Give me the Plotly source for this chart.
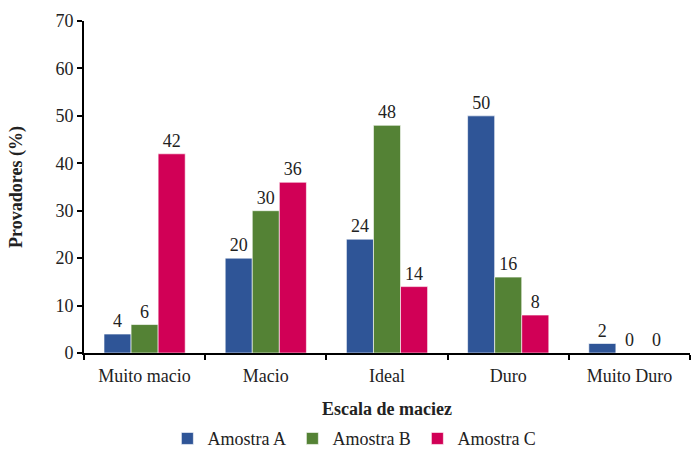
import plotly.graph_objects as go

categories = ["Muito macio", "Macio", "Ideal", "Duro", "Muito Duro"]
amostra_a = [4, 20, 24, 50, 2]
amostra_b = [6, 30, 48, 16, 0]
amostra_c = [42, 36, 14, 8, 0]
series_names = ["Amostra A", "Amostra B", "Amostra C"]
colors = ["#2F5597", "#548235", "#D10056"]

FONT = "Liberation Serif"

fig = go.Figure()
for name, vals, col in zip(series_names, [amostra_a, amostra_b, amostra_c], colors):
    fig.add_trace(go.Bar(
        x=categories, y=vals, name=name,
        marker=dict(color=col, line=dict(color="rgba(255,255,255,0.6)", width=1)),
        text=[str(v) for v in vals], textposition="outside",
        textfont=dict(family=FONT, size=18, color="#222"),
        cliponaxis=False,
    ))

fig.update_layout(
    width=692, height=450,
    margin=dict(l=84, r=2, t=21, b=97),
    paper_bgcolor="white", plot_bgcolor="white",
    barmode="group", bargap=0.33, bargroupgap=0,
    font=dict(family=FONT, size=18, color="#222"),
    showlegend=True,
    legend=dict(orientation="h", x=0.447, xanchor="center", yref="container", y=0.025, yanchor="middle",
                font=dict(family=FONT, size=18), itemwidth=30, tracegroupgap=0,
                entrywidth=80, entrywidthmode="pixels"),
    xaxis=dict(
        showline=True, linecolor="black", linewidth=2, automargin=True,
        ticks="outside", ticklen=5, tickwidth=2, tickcolor="black",
        tickson="boundaries", showgrid=False, ticklabelstandoff=5,
        tickfont=dict(family=FONT, size=18),
        title=dict(text="<b>Escala de maciez</b>", font=dict(family=FONT, size=18), standoff=18),
    ),
    yaxis=dict(
        range=[0, 70], dtick=10, showline=True, linecolor="black", linewidth=2,
        ticks="outside", ticklen=5, tickwidth=2, tickcolor="black",
        showgrid=False, zeroline=False,
        tickfont=dict(family=FONT, size=18),
        title=dict(text="<b>Provadores (%)</b>", font=dict(family=FONT, size=18), standoff=28),
    ),
)

fig.write_html("out.html")
